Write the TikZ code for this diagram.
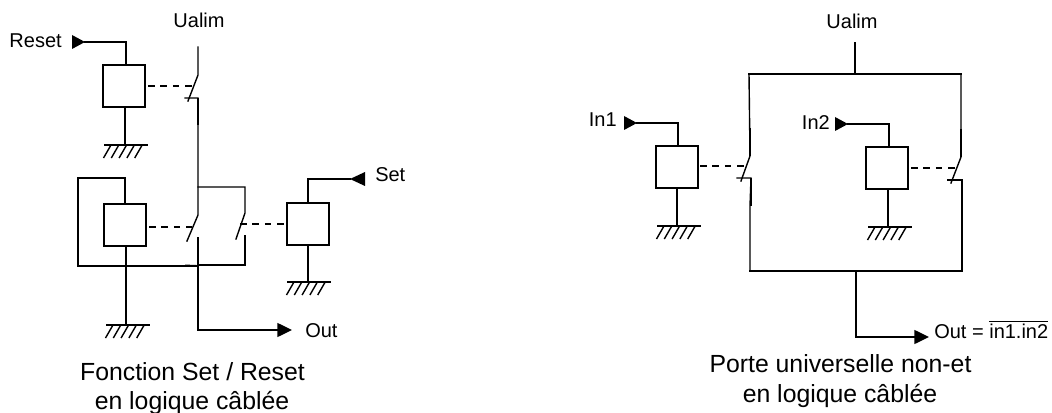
\documentclass[tikz,border=0pt]{standalone}
\usepackage{fontspec}
\setmainfont{Liberation Sans}
\usetikzlibrary{arrows.meta}
\tikzset{
  x=0.75pt,y=-0.75pt,
  wire/.style={line width=1.05pt,line cap=rect,black},
  heavy/.style={line width=1.4pt,black},
  dashlink/.style={line width=1.05pt,dash pattern=on 5pt off 4.3pt,black},
  relay/.style={draw=black,line width=1.1pt,fill=white,minimum width=31.5pt,minimum height=31.5pt,inner sep=0pt},
  lbl/.style={font=\fontsize{15pt}{18pt}\selectfont,inner sep=0pt},
  caption/.style={font=\fontsize{18.6pt}{22pt}\selectfont,inner sep=0pt,anchor=base},
  outwire/.style={line width=1.05pt,black,-{Triangle[length=11pt,width=10.5pt]}},
  ground/.pic={
    \draw[line width=1.05pt] (-21,0) -- (23,0);
    \foreach \k in {0,1,2,3,4}
      \draw[line width=1.05pt] (-14+\k*7.8,0) -- (-21.5+\k*7.8,13);
  },
  intri/.pic={\fill[black] (0,-7) -- (13,0) -- (0,7) -- cycle;},
  settri/.pic={\fill[black] (0,-7) -- (-15,0) -- (0,7) -- cycle;}
}
\begin{document}
\begin{tikzpicture}
\useasboundingbox (0,0) rectangle (1052,413);
\fill[white] (0,0) rectangle (1052,413);

% ---------- left circuit ----------
\node[lbl,anchor=base east] (reset) at (62,48) {Reset};
\node[lbl,anchor=base] (ualimL) at (199,28) {Ualim};
\node[lbl,anchor=base west] (set) at (375,182) {Set};
\node[lbl,anchor=base west] (outL) at (305,337) {Out};
\node[relay] (r1) at (124,86) {};
\node[relay] (r2) at (125,225) {};
\node[relay] (r3) at (308,224) {};
\coordinate (g1) at (125,145);
\coordinate (g2) at (127,325);
\coordinate (g3) at (308,282);
\pic at (g1) {ground};
\pic at (g2) {ground};
\pic at (g3) {ground};
\pic at (72,42) {intri};
\pic at (365,179) {settri};

\coordinate (t1) at (85,42);
\coordinate (s) at (350,179);
\draw[wire] (t1) -| (126,65);
\draw[wire] (125,107) -- (g1);
\draw[dashlink] (148,86) -- (192,86);
% top switch
\coordinate (a1) at (198,47);
\coordinate (a2) at (198,75);
\coordinate (a3) at (188,101);
\coordinate (a4) at (185,98);
\coordinate (a5) at (198,98);
\coordinate (a6) at (198,125);
\coordinate (j1) at (198,187);
\coordinate (a7) at (198,215);
\coordinate (a8) at (187,241);
\coordinate (a9) at (198,238);
\coordinate (j2) at (198,266);
\coordinate (o1) at (198,330);
\draw[wire] (a1) -- (a2) -- (a3);
\draw[wire] (a4) -- (a5) -- (a6) -- (j1) -- (a7) -- (a8);
\draw[heavy] (a5) -- (a6);
\draw[wire] (a9) -- (j2);
\draw[outwire] (j2) -- (o1) -- (292,330);
% right contact
\coordinate (b1) at (245,187);
\coordinate (b2) at (245,213);
\coordinate (b3) at (236,239);
\coordinate (b4) at (245,236);
\coordinate (b5) at (245,265);
\coordinate (b6) at (198,265);
\draw[wire] (j1) -- (b1) -- (b2) -- (b3);
\draw[wire] (b4) -- (b5) -- (b6);
\draw[heavy] (185,265.5) -- (j2);
% feedback loop
\coordinate (l1) at (78,178);
\coordinate (l2) at (78,266);
\coordinate (l3) at (125,178);
\draw[wire] (125,204) -- (l3) -- (l1) -- (l2) -- (j2);
\draw[wire] (126,246) -- (126,325);
\draw[dashlink] (149,227) -- (192,227);
\draw[dashlink] (240,224) -- (r3.west);
\draw[wire] (r3.north) |- (s);
\draw[wire] (r3.south) -- (g3);

\node[caption] (capLa) at (192.5,380) {Fonction Set / Reset};
\node[caption] (capLb) at (192,409.5) {en logique câblée};

% ---------- right circuit ----------
\node[lbl,anchor=base] (ualimR) at (852,29) {Ualim};
\node[lbl,anchor=base east] (in1) at (617,127) {In1};
\node[lbl,anchor=base east] (in2) at (830,130) {In2};
\node[lbl,anchor=base west] (outR) at (934,338) {Out = $\overline{\hbox{in1.in2}}$};
\node[relay] (r4) at (677,167) {};
\node[relay] (r5) at (887,168) {};
\coordinate (g4) at (678,226);
\coordinate (g5) at (889,227);
\pic at (g4) {ground};
\pic at (g5) {ground};
\pic at (624,123) {intri};
\pic at (835,124) {intri};
\coordinate (u1) at (855,43);
\coordinate (u2) at (855,74);
\coordinate (tl) at (749,74);
\coordinate (tr) at (961,74);
\coordinate (bl) at (750,271);
\coordinate (br) at (962,271);
\draw[wire] (u1) -- (u2);
\draw[wire] (tl) -- (tr);
\draw[wire] (bl) -- (br);
% left switch
\coordinate (c1) at (750,156);
\coordinate (c2) at (741,181);
\coordinate (c3) at (737,178);
\coordinate (c4) at (751,178);
\draw[wire] (tl) -- (c1) -- (c2);
\draw[wire] (c3) -- (c4) -- (750,206) -- (bl);
\draw[heavy] (750,128) -- (c1);
\draw[heavy] (c4) -- (751,206);
% right switch
\coordinate (d1) at (961,157);
\coordinate (d2) at (951,183);
\coordinate (d3) at (948,180);
\coordinate (d4) at (962,180);
\draw[wire] (tr) -- (d1) -- (d2);
\draw[wire] (d3) -- (d4) -- (br);
\draw[heavy] (961,129) -- (d1);
\draw[heavy] (d4) -- (962,208);
% inputs
\coordinate (t4) at (637,123);
\coordinate (t5) at (848,124);
\draw[wire] (t4) -| (678,146);
\draw[wire] (t5) -| (889,147);
\draw[wire] (677,188) -- (677,226);
\draw[wire] (888,189) -- (888,227);
\draw[dashlink] (700,166) -- (746,166);
\draw[dashlink] (911,168) -- (957,168);
% output
\coordinate (o2) at (856,271);
\coordinate (o3) at (856,337);
\draw[outwire] (o2) -- (o3) -- (929,337);

\node[caption] (capRa) at (840.5,372) {Porte universelle non-et};
\node[caption] (capRb) at (840,402) {en logique câblée};
\end{tikzpicture}
\end{document}
